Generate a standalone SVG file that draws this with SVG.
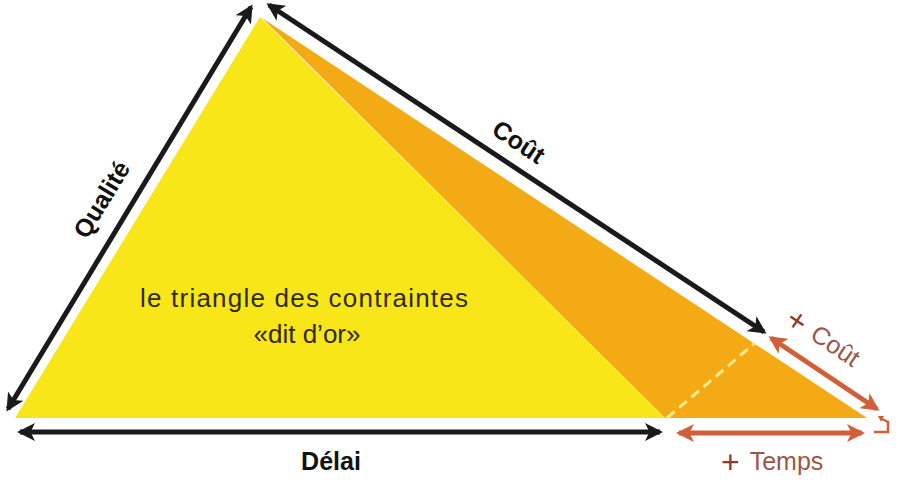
<svg xmlns="http://www.w3.org/2000/svg" width="900" height="490" viewBox="0 0 900 490">
<defs>
<style>
.blk{stroke:#1a1a1a;stroke-width:5;fill:none}
.red{stroke:#D0603A;stroke-width:5;fill:none}
.lbl{font-family:"Liberation Sans",Arial,sans-serif;font-weight:bold;font-size:25px;fill:#111;text-anchor:middle}
.rlbl{font-family:"Liberation Sans",Arial,sans-serif;font-size:25px;fill:#9A5646}
.plus{font-size:32px;fill:#8A3E30}
.mid{font-family:"Liberation Sans",Arial,sans-serif;font-size:26px;fill:#2e2a0c;text-anchor:middle}
</style>
<marker id="ab" viewBox="0 0 12 12" refX="10" refY="6" markerWidth="18" markerHeight="18" markerUnits="userSpaceOnUse" orient="auto-start-reverse">
<path d="M0,0 L12,6 L0,12 L3,6 z" fill="#1a1a1a"/>
</marker>
<marker id="ar" viewBox="0 0 12 12" refX="10" refY="6" markerWidth="18" markerHeight="18" markerUnits="userSpaceOnUse" orient="auto-start-reverse">
<path d="M0,0 L12,6 L0,12 L3,6 z" fill="#D0603A"/>
</marker>
</defs>
<rect width="900" height="490" fill="#ffffff"/>
<g id="triangle-or">
<polygon points="262,18 665,418 867,418" fill="#F4AA14"/>
</g>
<g id="triangle-jaune">
<polygon points="260,17 15,418 665,418" fill="#F8E619"/>
<text class="mid" x="304" y="307" textLength="328" lengthAdjust="spacing">le triangle des contraintes</text>
<text class="mid" x="307" y="343" font-size="27">«dit d’or»</text>
</g>
<g id="extension">
<line x1="667" y1="418" x2="755" y2="343" stroke="#FBEA8A" stroke-width="3" stroke-dasharray="10,6"/>
</g>
<g id="connectors">
<line class="blk" x1="8" y1="409" x2="251" y2="7" marker-start="url(#ab)" marker-end="url(#ab)"/>
<line class="blk" x1="269" y1="5" x2="764" y2="332" marker-start="url(#ab)" marker-end="url(#ab)"/>
<line class="blk" x1="20" y1="432" x2="660" y2="432" marker-start="url(#ab)" marker-end="url(#ab)"/>
<line class="red" x1="771" y1="338" x2="877" y2="409" marker-start="url(#ar)" marker-end="url(#ar)"/>
<line class="red" x1="679" y1="433" x2="862" y2="433" marker-start="url(#ar)" marker-end="url(#ar)"/>
<path d="M874,432 H888 V422 L882,419" stroke="#D0603A" stroke-width="2.5" fill="none"/>
<path d="M878,416 L884,416 L881,422 z" fill="#D0603A"/>
</g>
<g id="label-qualite">
<text class="lbl" transform="translate(109,204) rotate(-58.7)">Qualité</text>
</g>
<g id="label-cout">
<text class="lbl" transform="translate(514,149) rotate(33.7)">Coût</text>
</g>
<g id="label-delai">
<text class="lbl" x="331" y="470">Délai</text>
</g>
<g id="label-plus-cout">
<text class="rlbl" transform="translate(785,322) rotate(34)"><tspan class="plus" dy="3">+</tspan><tspan dx="10" dy="-3">Coût</tspan></text>
</g>
<g id="label-plus-temps">
<text class="rlbl" x="721" y="470"><tspan class="plus" dy="3">+</tspan><tspan dx="10" dy="-3">Temps</tspan></text>
</g>
</svg>
